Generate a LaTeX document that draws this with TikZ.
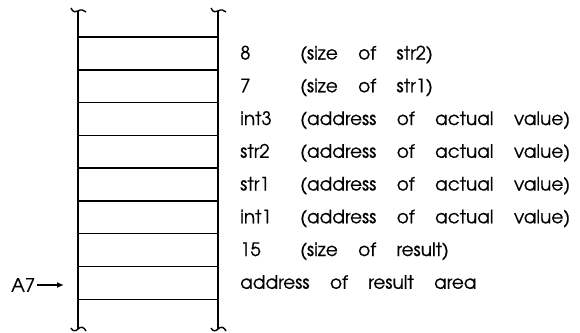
\documentclass[tikz,border=0pt]{standalone}
\usepackage{fontspec}
\setmainfont[FakeBold=0.6]{TeX Gyre Adventor}
\usetikzlibrary{arrows.meta}
\tikzset{
  rail/.style={line width=1.7pt, line cap=butt},
  rung/.style={line width=1.5pt},
  txt/.style={anchor=base west, inner sep=0pt, font=\fontsize{18.5}{21}\selectfont},
  ptr/.style={line width=1.6pt, -{Latex[length=7pt,width=6pt]}},
}
% word gap used in the cell descriptions
\newcommand\wgap{20pt}
\begin{document}
\begin{tikzpicture}[x=1pt,y=-1pt]
\useasboundingbox (0,0) rectangle (580,332);

% the two side rails with broken ends
\coordinate (LT) at (78,11);
\coordinate (LB) at (78,329);
\coordinate (RT) at (218,11);
\coordinate (RB) at (218,329);
\draw[rail] (LT) -- (LB);
\draw[rail] (RT) -- (RB);
\foreach \p in {LT,RT}{
  \draw[line width=1.4pt] ([xshift=-7pt,yshift=3pt]\p) .. controls ([xshift=-5pt,yshift=-2pt]\p) and ([xshift=-2pt,yshift=-1pt]\p) .. (\p)
     .. controls ([xshift=3pt,yshift=2pt]\p) and ([xshift=6pt,yshift=1pt]\p) .. ([xshift=8pt,yshift=-1pt]\p);
}
\foreach \p in {LB,RB}{
  \draw[line width=1.4pt] ([xshift=-7pt,yshift=1pt]\p) .. controls ([xshift=-5pt,yshift=-3pt]\p) and ([xshift=-2pt,yshift=-2pt]\p) .. (\p)
     .. controls ([xshift=3pt,yshift=3pt]\p) and ([xshift=6pt,yshift=2pt]\p) .. ([xshift=8pt,yshift=-2pt]\p);
}

% eight stack cells
\foreach \i in {1,...,8}{
  \node[draw=none, minimum width=140pt, minimum height=32.75pt, inner sep=0pt, anchor=north west]
    (c\i) at (78,{37+32.75*(\i-1)}) {};
}
\foreach \i in {1,...,8}{
  \draw[rung] (c\i.north west) -- (c\i.north east);
}
\draw[rung] (c8.south west) -- (c8.south east);

% contents of each cell, one word at a time
\foreach \i/\a/\b in {1/8/str2), 2/7/str1), 7/15/result)}{
  \node[txt] (w\i a) at (240,{37+32.75*(\i-1)+22.5}) {\a};
  \node[txt] (w\i b) at (300,{37+32.75*(\i-1)+22.5}) {(size};
  \node[txt] (w\i c) at ([xshift=\wgap]w\i b.base east) {of};
  \node[txt] (w\i d) at ([xshift=\wgap]w\i c.base east) {\b};
}
\foreach \i/\a in {3/int3, 4/str2, 5/str1, 6/int1}{
  \node[txt] (w\i a) at (240,{37+32.75*(\i-1)+22.5}) {\a};
  \node[txt] (w\i b) at (300,{37+32.75*(\i-1)+22.5}) {(address};
  \node[txt] (w\i c) at ([xshift=\wgap]w\i b.base east) {of};
  \node[txt] (w\i d) at ([xshift=\wgap]w\i c.base east) {actual};
  \node[txt] (w\i e) at ([xshift=\wgap]w\i d.base east) {value)};
}
\node[txt] (w8a) at (240,{37+32.75*7+22.5}) {address};
\node[txt] (w8b) at ([xshift=\wgap]w8a.base east) {of};
\node[txt] (w8c) at ([xshift=\wgap]w8b.base east) {result};
\node[txt] (w8d) at ([xshift=\wgap]w8c.base east) {area};

% pointer A7
\node[txt, anchor=west] (a7) at (11,285) {A7};
\coordinate (a7tip) at (64,285);
\draw[ptr] (a7.east) ++(2pt,0) -- (a7tip);
\end{tikzpicture}
\end{document}
